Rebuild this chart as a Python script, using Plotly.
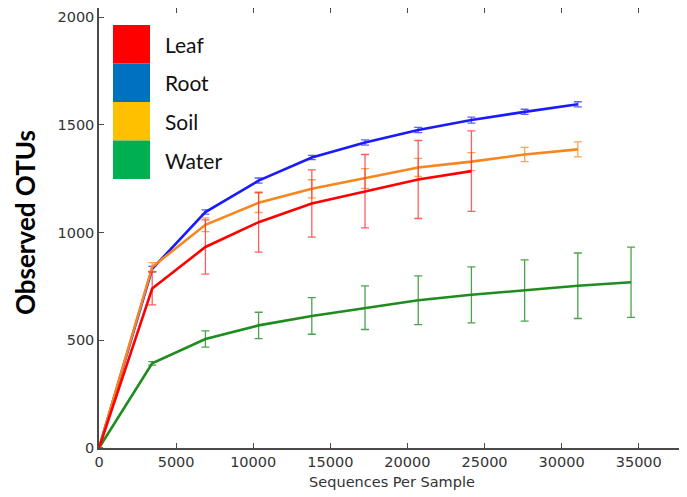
import plotly.graph_objects as go

# ---- data ----
depths = [0, 3450, 6900, 10350, 13800, 17250, 20700, 24150, 27600, 31050, 34500]

leaf = [0, 740, 933, 1048, 1135, 1192, 1246, 1285]
leaf_err = [0, 76, 126, 139, 156, 170, 181, 187]

root = [0, 831, 1095, 1241, 1348, 1418, 1476, 1522, 1560, 1595]
root_err = [0, 12, 10, 12, 10, 12, 12, 14, 12, 12]

soil = [0, 840, 1036, 1138, 1203, 1251, 1302, 1329, 1362, 1386]
soil_err = [0, 20, 32, 45, 42, 46, 42, 42, 33, 35]

water = [0, 393, 506, 569, 613, 651, 686, 711, 731, 753, 769]
water_err = [0, 8, 38, 61, 85, 101, 113, 130, 142, 152, 163]

legend_labels = ["Leaf", "Root", "Soil", "Water"]
legend_colors = ["#FF0000", "#0070C0", "#FFC000", "#00B050"]

series = [
    ("Leaf", leaf, leaf_err, "#ff0000", "rgba(255,40,40,0.75)"),
    ("Root", root, root_err, "#1a1aff", "rgba(40,40,255,0.75)"),
    ("Soil", soil, soil_err, "#f7861f", "rgba(247,134,31,0.75)"),
    ("Water", water, water_err, "#1f8c1f", "rgba(31,140,31,0.8)"),
]

fig = go.Figure()
for name, vals, errs, col, ecol in [series[3], series[1], series[2], series[0]]:
    fig.add_trace(go.Scatter(
        x=depths[:len(vals)], y=vals, mode="lines", name=name,
        line=dict(color=col, width=2.6),
        error_y=dict(type="data", array=errs, visible=True,
                     color=ecol, thickness=1.3, width=4),
        showlegend=False,
    ))

# The page body has an 8px margin, so the figure is sized to fit inside it.
OFF = 8
W, H = 687 - OFF, 497 - OFF
L, R, T, B = 99 - OFF, 685 - OFF, 0, 448 - OFF

def px(x):
    return (x - OFF - L) / (R - L)

def py(y):
    return (B - (y - OFF)) / (B - T)

shapes = []
annotations = []
sq_x0, sq_x1 = 113, 150
tops = [25, 63.5, 102, 140.5]
for lab, col, t in zip(legend_labels, legend_colors, tops):
    shapes.append(dict(type="rect", xref="paper", yref="paper",
                       x0=px(sq_x0), x1=px(sq_x1), y0=py(t + 38.5), y1=py(t),
                       fillcolor=col, line=dict(width=0), layer="above"))
    annotations.append(dict(xref="paper", yref="paper", x=px(163), y=py(t + 19.5),
                            xanchor="left", yanchor="middle", showarrow=False,
                            text=lab, font=dict(family="Lato", size=21, color="#111")))

annotations.append(dict(xref="paper", yref="paper", x=px(25), y=py(223),
                        xanchor="center", yanchor="middle", showarrow=False,
                        textangle=-90, text="<b>Observed OTUs</b>",
                        font=dict(family="Lato", size=26, color="black")))

axis_common = dict(
    showline=True, mirror="ticks", linecolor="#4a4a4a", linewidth=1.5,
    ticks="inside", ticklen=5, tickcolor="#4a4a4a", tickwidth=1.2,
    showgrid=False, zeroline=False, automargin=False, tickformat="d",
    tickfont=dict(family="DejaVu Sans", size=14.5, color="#333333"),
)

fig.update_layout(
    width=W, height=H,
    margin=dict(l=L, r=W - R, t=T, b=H - B),
    plot_bgcolor="white", paper_bgcolor="white",
    shapes=shapes, annotations=annotations,
    xaxis=dict(range=[0, 38000], dtick=5000, tick0=0,
               title=dict(text="Sequences Per Sample", standoff=8,
                          font=dict(family="DejaVu Sans", size=14.5, color="#333333")),
               **axis_common),
    yaxis=dict(range=[0, 2042], dtick=500, tick0=0, **axis_common),
)

fig.write_html("out.html")
